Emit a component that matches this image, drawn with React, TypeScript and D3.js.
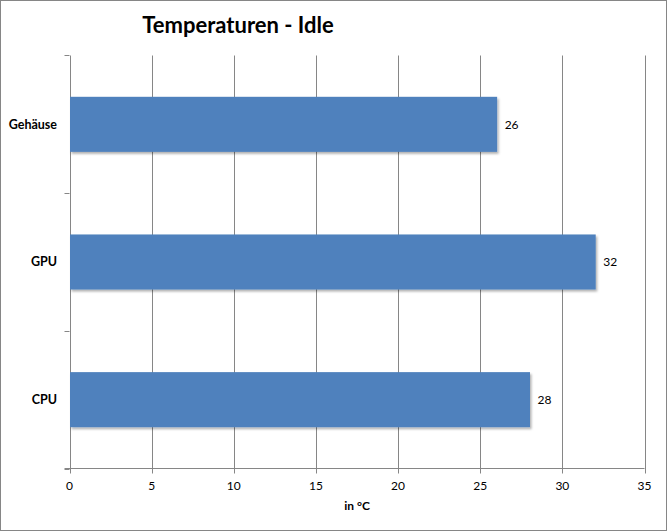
import React from "react";
import * as d3 from "d3";

const categories = ["Gehäuse", "GPU", "CPU"];
const values = [26, 32, 28];
const xTicks = [0, 5, 10, 15, 20, 25, 30, 35];
const title = "Temperaturen - Idle";
const xTitle = "in °C";

export default function App() {
  const W = 667, H = 531;
  const left = 69.5, right = 644.5, top = 55.5, bottom = 468.5;
  const x = d3.scaleLinear().domain([0, 35]).range([left, right]);
  const y = d3.scaleBand<string>().domain(categories).range([top, bottom]).paddingInner(0.6).paddingOuter(0.3);
  const yc = d3.scaleBand<string>().domain(categories).range([top, bottom]).padding(0);
  const font = "Lato, 'Liberation Sans', sans-serif";
  const grid = "#868686";
  return (
    <svg width={W} height={H} style={{ position: "absolute", left: 0, top: 0 }}>
      <defs>
        <filter id="sh" x="-5%" y="-20%" width="115%" height="150%">
          <feDropShadow dx="1.5" dy="2" stdDeviation="1.2" floodColor="#000" floodOpacity="0.3" />
        </filter>
      </defs>
      <rect x={0.5} y={0.5} width={W - 1} height={H - 1} fill="#fff" stroke="#868686" />
      <text x={238} y={33} textAnchor="middle" fontFamily={font} fontWeight="bold" fontSize={22} fill="#000">{title}</text>
      {xTicks.map(t => (
        <line key={"g" + t} x1={Math.round(x(t)) + 0.5} x2={Math.round(x(t)) + 0.5} y1={top} y2={bottom + 5} stroke={grid} />
      ))}
      <line x1={left - 5} x2={left} y1={top} y2={top} stroke={grid} />
      {categories.map((c, i) => (
        <line key={"yt" + i} x1={left - 5} x2={left} y1={Math.round((yc(c) as number) + yc.bandwidth()) + 0.5} y2={Math.round((yc(c) as number) + yc.bandwidth()) + 0.5} stroke={grid} />
      ))}
      <line x1={left - 5} x2={right} y1={bottom} y2={bottom} stroke={grid} />
      {categories.map((c, i) => (
        <g key={c}>
          <rect x={left + 0.5} y={y(c)} width={x(values[i]) - left} height={y.bandwidth()} fill="#4F81BD" filter="url(#sh)" />
          <text x={x(values[i]) + 8} y={(y(c) as number) + y.bandwidth() / 2} dy="0.35em" fontFamily={font} fontSize={12} fill="#000">{values[i]}</text>
          <text x={57} y={(y(c) as number) + y.bandwidth() / 2} dy="0.35em" textAnchor="end" fontFamily={font} fontWeight="bold" fontSize={12.5} fill="#000">{c}</text>
        </g>
      ))}
      {xTicks.map(t => (
        <text key={"l" + t} x={x(t)} y={486} dy="0.35em" textAnchor="middle" fontFamily={font} fontSize={12} fill="#000">{t}</text>
      ))}
      <text x={357} y={506} dy="0.35em" textAnchor="middle" fontFamily={font} fontWeight="bold" fontSize={12} fill="#000">{xTitle}</text>
    </svg>
  );
}
